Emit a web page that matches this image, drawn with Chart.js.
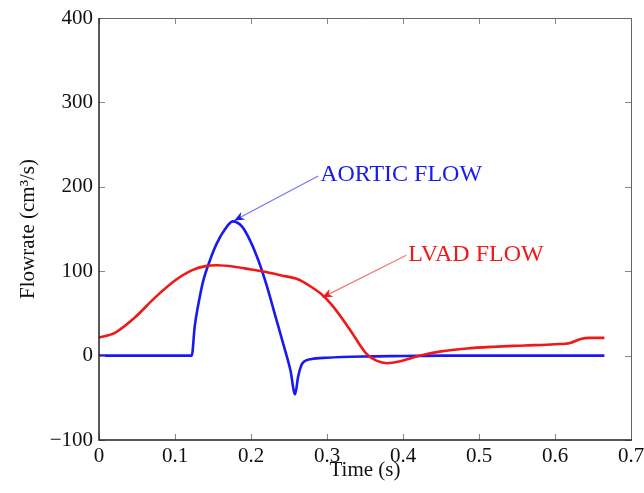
<!DOCTYPE html>
<html>
<head>
<meta charset="utf-8">
<script src="https://cdn.jsdelivr.net/npm/chart.js@4/dist/chart.umd.min.js"></script>
<style>
  body { margin: 0; background: #fff; overflow: hidden; }
  #wrap { width: 644px; height: 493px; overflow: hidden; }
</style>
</head>
<body>
<div id="wrap"><canvas id="myChart" width="644" height="493"></canvas></div>
<script>
// time (s) and flow (cm^3/s)
let aorticTime = [0, 0.05, 0.1, 0.122, 0.126, 0.131, 0.137, 0.146, 0.155, 0.166, 0.176, 0.188, 0.199, 0.21, 0.221, 0.232, 0.243, 0.252, 0.258, 0.262, 0.266, 0.27, 0.28, 0.3, 0.35, 0.4, 0.45, 0.5, 0.6, 0.665];
let aorticFlow = [0, 0, 0, 0, 35, 62, 88, 113, 133, 150, 159, 153, 136, 112, 82, 47, 12, -18, -46, -25, -12, -7, -4, -2.5, -1, -0.5, 0, 0, 0, 0];

let lvadTime = [0, 0.021, 0.047, 0.074, 0.1, 0.122, 0.14, 0.155, 0.18, 0.2, 0.22, 0.24, 0.26, 0.28, 0.295, 0.31, 0.33, 0.352, 0.365, 0.379, 0.395, 0.423, 0.45, 0.484, 0.52, 0.56, 0.6, 0.62, 0.635, 0.645, 0.665];
let lvadFlow = [21.5, 27, 45, 69, 89, 101, 106, 107, 105, 102, 99, 95, 91, 81, 71, 56, 31, 2, -6, -9, -7, 0, 5, 8.5, 10.5, 12, 13.5, 15, 20, 21, 21];

let xTicks = [0, 0.1, 0.2, 0.3, 0.4, 0.5, 0.6, 0.7];
let yTicks = [-100, 0, 100, 200, 300, 400];

// text labels with arrows: [text x, text y, arrow tip x, arrow tip y]
let aorticNote = [0.291, 214, 0.178, 160];
let lvadNote = [0.407, 120, 0.294, 69];

let blue = "rgb(25,25,240)";
let red = "rgb(240,25,25)";
let serif = "'Liberation Serif', 'DejaVu Serif', serif";

function pts(xs, ys) {
  return xs.map((x, i) => ({ x: x, y: ys[i] }));
}

function arrow(ctx, x1, y1, x2, y2, color) {
  let a = Math.atan2(y2 - y1, x2 - x1);
  ctx.save();
  ctx.strokeStyle = color;
  ctx.globalAlpha = 0.6;
  ctx.lineWidth = 1.2;
  ctx.beginPath();
  ctx.moveTo(x1, y1);
  ctx.lineTo(x2, y2);
  ctx.stroke();
  ctx.globalAlpha = 1;
  ctx.fillStyle = color;
  ctx.beginPath();
  ctx.moveTo(x2, y2);
  ctx.lineTo(x2 - 11 * Math.cos(a - 0.4), y2 - 11 * Math.sin(a - 0.4));
  ctx.lineTo(x2 - 7 * Math.cos(a), y2 - 7 * Math.sin(a));
  ctx.lineTo(x2 - 11 * Math.cos(a + 0.4), y2 - 11 * Math.sin(a + 0.4));
  ctx.closePath();
  ctx.fill();
  ctx.restore();
}

// MATLAB style box with inward ticks, plus annotations
let boxPlugin = {
  id: "box",
  afterDatasetsDraw(chart) {
    let ctx = chart.ctx;
    let a = chart.chartArea;
    let xs = chart.scales.x, ys = chart.scales.y;
    ctx.save();
    ctx.strokeStyle = "#888";
    ctx.lineWidth = 1;
    xTicks.forEach(function (t) {
      let px = Math.round(xs.getPixelForValue(t)) + 0.5;
      ctx.beginPath();
      ctx.moveTo(px, a.bottom); ctx.lineTo(px, a.bottom - 6);
      ctx.moveTo(px, a.top); ctx.lineTo(px, a.top + 6);
      ctx.stroke();
    });
    yTicks.forEach(function (v) {
      let py = Math.round(ys.getPixelForValue(v)) + 0.5;
      ctx.beginPath();
      ctx.moveTo(a.left, py); ctx.lineTo(a.left + 6, py);
      ctx.moveTo(a.right, py); ctx.lineTo(a.right - 6, py);
      ctx.stroke();
    });
    ctx.strokeStyle = "#666";
    ctx.beginPath();
    ctx.moveTo(a.left, a.top + 0.5); ctx.lineTo(a.right + 0.5, a.top + 0.5); ctx.lineTo(a.right + 0.5, a.bottom);
    ctx.stroke();
    ctx.strokeStyle = "#222";
    ctx.lineWidth = 1.5;
    ctx.beginPath();
    ctx.moveTo(a.left, a.top); ctx.lineTo(a.left, a.bottom); ctx.lineTo(a.right + 1, a.bottom);
    ctx.stroke();

    let notes = [["AORTIC FLOW", aorticNote, blue], ["LVAD FLOW", lvadNote, red]];
    notes.forEach(function (n) {
      let tx = xs.getPixelForValue(n[1][0]), ty = ys.getPixelForValue(n[1][1]);
      let hx = xs.getPixelForValue(n[1][2]), hy = ys.getPixelForValue(n[1][3]);
      arrow(ctx, tx - 2, ty + 1, hx, hy, n[2]);
      ctx.fillStyle = n[2];
      ctx.font = "24px " + serif;
      ctx.textAlign = "left";
      ctx.textBaseline = "middle";
      ctx.fillText(n[0], tx, ty);
    });
    ctx.restore();
  }
};

new Chart("myChart", {
  type: "line",
  data: {
    datasets: [
      { data: pts(lvadTime, lvadFlow), borderColor: red, borderWidth: 2.6, pointRadius: 0, cubicInterpolationMode: "monotone" },
      { data: pts(aorticTime, aorticFlow), borderColor: blue, borderWidth: 2.6, pointRadius: 0, cubicInterpolationMode: "monotone" }
    ]
  },
  options: {
    responsive: false,
    animation: false,
    layout: { padding: { top: 18, right: 13, bottom: 10, left: 0 } },
    plugins: { legend: { display: false }, tooltip: { enabled: false } },
    scales: {
      x: {
        type: "linear",
        min: 0, max: 0.7,
        afterBuildTicks: (s) => { s.ticks = xTicks.map(v => ({ value: v })); },
        afterFit: (s) => { s.height = 43; s.paddingLeft = 0; s.paddingRight = 0; },
        grid: { display: false, drawTicks: false },
        border: { display: false },
        ticks: { color: "#111", padding: 4, maxRotation: 0, font: { family: serif, size: 21 }, callback: (v) => String(v) },
        title: { display: true, text: "Time (s)", color: "#111", padding: { top: -6, bottom: 0 }, font: { family: serif, size: 21 } }
      },
      y: {
        min: -100, max: 400,
        afterBuildTicks: (s) => { s.ticks = yTicks.map(v => ({ value: v })); },
        afterFit: (s) => { s.width = 99; s.paddingTop = 0; s.paddingBottom = 0; },
        grid: { display: false, drawTicks: false },
        border: { display: false },
        ticks: { color: "#111", padding: 6, font: { family: serif, size: 21 }, callback: (v) => v < 0 ? "\u2212" + Math.abs(v) : String(v) },
        title: { display: true, text: "Flowrate (cm\u00b3/s)", color: "#111", padding: { top: 16, bottom: 0 }, font: { family: serif, size: 21 } }
      }
    }
  },
  plugins: [boxPlugin]
});
</script>
</body>
</html>
